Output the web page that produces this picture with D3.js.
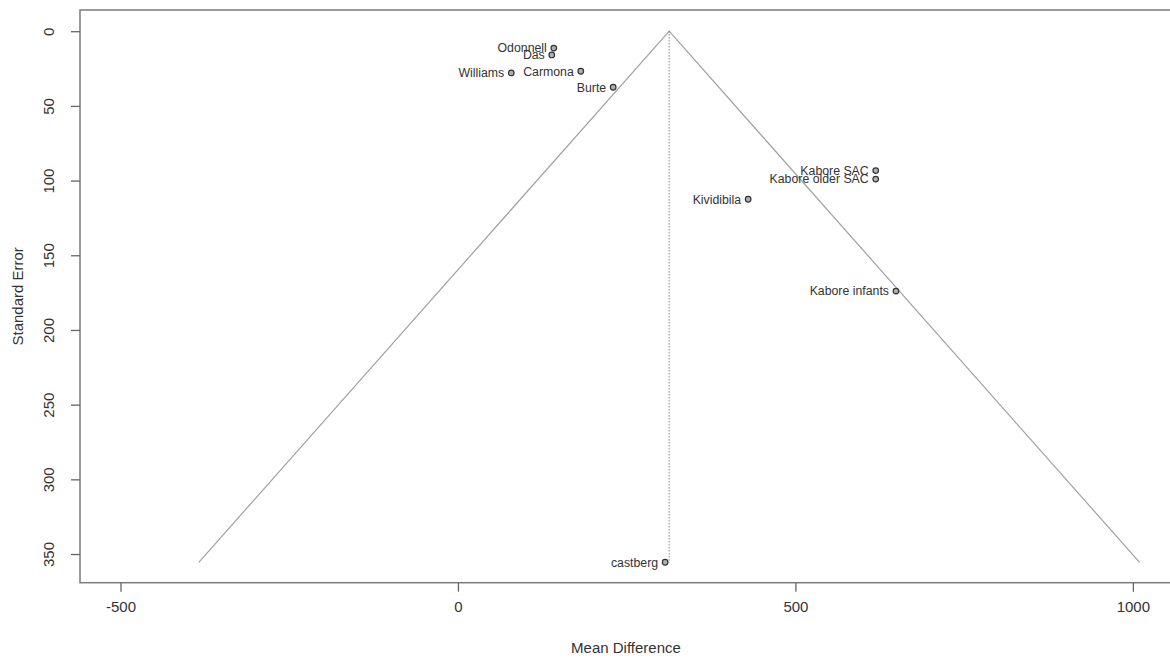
<!DOCTYPE html>
<html>
<head>
<meta charset="utf-8">
<script src="https://cdn.jsdelivr.net/npm/d3@7"></script>
<style>
  html, body { margin: 0; padding: 0; background: #ffffff; }
  svg { display: block; }
  text { font-family: "Liberation Sans", Arial, sans-serif; fill: #333; }
</style>
</head>
<body>
<svg id="chart" width="1170" height="661"></svg>
<script>
// ---- data ----
const studies   = ["Odonnell", "Das", "Williams", "Carmona", "Burte", "Kabore SAC", "Kabore older SAC", "Kividibila", "Kabore infants", "castberg"];
const meanDiff  = [142, 139, 79, 182, 230, 619, 619, 430, 649, 307];
const stdErr    = [11.3, 15.9, 27.9, 26.8, 37.5, 93.3, 99, 112.5, 174, 355.5];
const xTicks    = [-500, 0, 500, 1000];
const yTicks    = [0, 50, 100, 150, 200, 250, 300, 350];
const pooledEstimate = 313;
const funnelMaxSE = 355.6;
const zCrit = 1.96;

// ---- layout ----
const svg = d3.select("#chart");
const plotLeft = 80, plotRight = 1172, plotTop = 10, plotBottom = 582.7;

const x = d3.scaleLinear().domain([-560, 1058]).range([plotLeft, plotRight]);
const y = d3.scaleLinear().domain([-14.2, 369.2]).range([plotTop, plotBottom]);

// funnel
const funnelPts = [
  [pooledEstimate - zCrit * funnelMaxSE, funnelMaxSE],
  [pooledEstimate, 0],
  [pooledEstimate + zCrit * funnelMaxSE, funnelMaxSE]
];
svg.append("path")
  .attr("d", d3.line().x(d => x(d[0])).y(d => y(d[1]))(funnelPts))
  .attr("fill", "none")
  .attr("stroke", "#a0a0a0")
  .attr("stroke-width", 1.2);

svg.append("line")
  .attr("x1", x(pooledEstimate)).attr("x2", x(pooledEstimate))
  .attr("y1", y(0)).attr("y2", y(funnelMaxSE))
  .attr("stroke", "#888")
  .attr("stroke-width", 1.2)
  .attr("stroke-dasharray", "1.2,1.8");

// box
svg.append("rect")
  .attr("x", plotLeft).attr("y", plotTop)
  .attr("width", plotRight - plotLeft).attr("height", plotBottom - plotTop)
  .attr("fill", "none")
  .attr("stroke", "#7a7a7a")
  .attr("stroke-width", 1.5);

// axes
const fmt = d => String(d);
const xAxis = svg.append("g")
  .attr("transform", `translate(0,${plotBottom})`)
  .call(d3.axisBottom(x).tickValues(xTicks).tickSize(9).tickPadding(10).tickFormat(fmt));
xAxis.select(".domain").remove();
xAxis.selectAll(".tick line").attr("stroke", "#666").attr("stroke-width", 1.3);
xAxis.selectAll(".tick text").attr("font-size", 15).attr("fill", "#333")
  .style("font-family", "'Liberation Sans', Arial, sans-serif");

const yAxis = svg.append("g")
  .attr("transform", `translate(${plotLeft},0)`)
  .call(d3.axisLeft(y).tickValues(yTicks).tickSize(9).tickFormat(fmt));
yAxis.select(".domain").remove();
yAxis.selectAll(".tick line").attr("stroke", "#666").attr("stroke-width", 1.3);
yAxis.selectAll(".tick text")
  .attr("x", 0).attr("dy", 0)
  .attr("transform", "translate(-32,0) rotate(-90)")
  .attr("text-anchor", "middle")
  .attr("dominant-baseline", "central")
  .attr("font-size", 15).attr("fill", "#333")
  .style("font-family", "'Liberation Sans', Arial, sans-serif");

// axis titles
svg.append("text")
  .attr("x", (plotLeft + plotRight) / 2).attr("y", 653)
  .attr("text-anchor", "middle")
  .attr("font-size", 15)
  .text("Mean Difference");

svg.append("text")
  .attr("transform", `translate(23,${(plotTop + plotBottom) / 2}) rotate(-90)`)
  .attr("text-anchor", "middle")
  .attr("font-size", 15)
  .text("Standard Error");

// points
const data = studies.map((s, i) => ({ name: s, md: meanDiff[i], se: stdErr[i] }));
svg.append("g").selectAll("circle")
  .data(data).join("circle")
  .attr("cx", d => x(d.md)).attr("cy", d => y(d.se))
  .attr("r", 2.8)
  .attr("fill", "#b0b0b0")
  .attr("stroke", "#333")
  .attr("stroke-width", 1.2);

svg.append("g").selectAll("text")
  .data(data).join("text")
  .attr("x", d => x(d.md) - 7).attr("y", d => y(d.se))
  .attr("dy", "0.35em")
  .attr("text-anchor", "end")
  .attr("font-size", 12.3)
  .text(d => d.name);
</script>
</body>
</html>
